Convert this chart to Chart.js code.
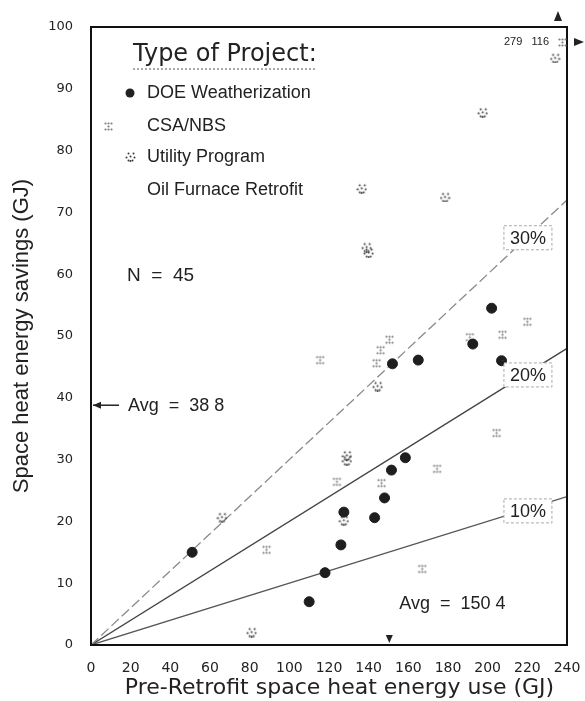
<!DOCTYPE html>
<html>
<head>
<meta charset="utf-8">
<script src="https://cdn.jsdelivr.net/npm/chart.js@4.4.1/dist/chart.umd.min.js"></script>
<style>
  html, body { margin: 0; padding: 0; background: #fff; }
  #wrap { width: 585px; height: 701px; }
</style>
</head>
<body>
<div id="wrap"><canvas id="chart" width="585" height="701"></canvas></div>
<script>
// data (GJ)
const doeX = [51, 110, 118, 126, 127.5, 143, 148, 151.5, 158.5, 152, 165, 192.5, 202, 207];
const doeY = [15, 7, 11.7, 16.2, 21.5, 20.6, 23.8, 28.3, 30.3, 45.5, 46.1, 48.7, 54.5, 46];

const csaX = [88.5, 124, 146.5, 167, 174.5, 204.5, 144, 146, 150.5, 191, 207.5, 220, 115.5];
const csaY = [15.4, 26.4, 26.2, 12.3, 28.5, 34.3, 45.6, 47.7, 49.4, 49.8, 50.2, 52.3, 46.1];

const utilX = [66, 81, 127.5, 129, 129, 144.5, 136.5, 139, 140, 178.5, 197.5, 234];
const utilY = [20.7, 2.1, 20.2, 29.9, 30.7, 41.9, 73.9, 64.4, 63.5, 72.5, 86.2, 95];

// savings-fraction reference lines
const refLabels = ["30%", "20%", "10%"];
const refFractions = [0.3, 0.2, 0.1];
const xRange = [0, 240];
const yRange = [0, 100];

const avgSavings = 38.8;
const avgUse = 150.4;
const offScale = { x: 279, y: 116 };

const toPoints = (xs, ys) => xs.map((v, i) => ({ x: v, y: ys[i] }));

// small dotted symbols like the photocopied original
function makeCsa() {
  const c = document.createElement("canvas");
  c.width = c.height = 11;
  const g = c.getContext("2d");
  g.fillStyle = "#808080";
  [[2, 2], [8, 2], [5, 5], [2, 8], [8, 8], [5, 2], [5, 8]].forEach(([a, b]) => {
    g.beginPath(); g.arc(a + 0.5, b + 0.5, 1.1, 0, Math.PI * 2); g.fill();
  });
  return c;
}
function makeUtil() {
  const c = document.createElement("canvas");
  c.width = c.height = 11;
  const g = c.getContext("2d");
  g.fillStyle = "#3a3a3a";
  [[3, 2], [8, 2], [1, 6], [3, 9], [5, 9.5], [7, 9], [9, 6], [5, 5]].forEach(([a, b]) => {
    g.beginPath(); g.arc(a + 0.5, b + 0.5, 1.0, 0, Math.PI * 2); g.fill();
  });
  return c;
}
const csaIcon = makeCsa();
const utilIcon = makeUtil();

const refColors = ["#8a8a8a", "#444", "#555"];
const refDash = [[10, 4], [], []];

const refSets = refFractions.map((f, i) => ({
  type: "line",
  label: refLabels[i],
  data: xRange.map(v => ({ x: v, y: v * f })),
  borderColor: refColors[i],
  borderWidth: 1.3,
  borderDash: refDash[i],
  pointRadius: 0,
  showLine: true,
  order: 2
}));

const annotations = {
  id: "annotations",
  afterDatasetsDraw(chart) {
    const { ctx, chartArea: a, scales: { x, y } } = chart;
    ctx.save();

    // frame
    ctx.strokeStyle = "#111";
    ctx.lineWidth = 2;
    ctx.strokeRect(a.left, a.top, a.right - a.left, a.bottom - a.top);

    // connector from DOE point to 20% box
    ctx.strokeStyle = "#333";
    ctx.lineWidth = 1.2;
    ctx.beginPath();
    ctx.moveTo(x.getPixelForValue(207), y.getPixelForValue(46));
    ctx.lineTo(x.getPixelForValue(220.3) - 24, y.getPixelForValue(46));
    ctx.stroke();

    // percentage boxes at the right end of each line
    const boxY = [65.9, 43.7, 21.7];
    refLabels.forEach((lab, i) => {
      const cx = x.getPixelForValue(220.3);
      const cy = y.getPixelForValue(boxY[i]);
      ctx.fillStyle = "#fff";
      ctx.fillRect(cx - 24, cy - 12, 48, 24);
      ctx.setLineDash([3, 2]);
      ctx.strokeStyle = "#aaa";
      ctx.lineWidth = 1;
      ctx.strokeRect(cx - 24, cy - 12, 48, 24);
      ctx.setLineDash([]);
      ctx.fillStyle = "#222";
      ctx.font = "18px 'Liberation Sans'";
      ctx.textAlign = "center";
      ctx.textBaseline = "middle";
      ctx.fillText(lab, cx, cy + 1);
    });

    // legend block
    ctx.fillStyle = "#222";
    ctx.textAlign = "left";
    ctx.textBaseline = "middle";
    ctx.font = "24px 'DejaVu Sans'";
    const lx = a.left + 42;
    ctx.fillText("Type of Project:", lx, a.top + 28);
    const tw = ctx.measureText("Type of Project:").width;
    ctx.setLineDash([2, 2]);
    ctx.strokeStyle = "#555";
    ctx.lineWidth = 1;
    ctx.beginPath();
    ctx.moveTo(lx, a.top + 42);
    ctx.lineTo(lx + tw, a.top + 42);
    ctx.stroke();
    ctx.setLineDash([]);

    ctx.font = "18px 'Liberation Sans'";
    const items = ["DOE Weatherization", "CSA/NBS", "Utility Program", "Oil Furnace Retrofit"];
    const rowY = [66, 99, 130, 163];
    items.forEach((t, i) => ctx.fillText(t, a.left + 56, a.top + rowY[i]));
    ctx.fillStyle = "#222";
    ctx.beginPath();
    ctx.arc(a.left + 39, a.top + rowY[0], 4.5, 0, Math.PI * 2);
    ctx.fill();
    ctx.drawImage(csaIcon, a.left + 12, a.top + rowY[1] - 5);
    ctx.drawImage(utilIcon, a.left + 34, a.top + rowY[2] - 6);

    // N
    ctx.font = "19px 'Liberation Sans'";
    ctx.fillText("N  =  45", a.left + 36, y.getPixelForValue(59.7));

    // average savings arrow at the left axis
    const ay = y.getPixelForValue(avgSavings);
    ctx.strokeStyle = "#222";
    ctx.lineWidth = 1.5;
    ctx.beginPath();
    ctx.moveTo(a.left + 2, ay);
    ctx.lineTo(a.left + 28, ay);
    ctx.stroke();
    ctx.beginPath();
    ctx.moveTo(a.left + 2, ay);
    ctx.lineTo(a.left + 10, ay - 3.5);
    ctx.lineTo(a.left + 10, ay + 3.5);
    ctx.closePath();
    ctx.fill();
    ctx.font = "18px 'Liberation Sans'";
    ctx.fillText("Avg  =  38 8", a.left + 37, ay + 1);

    // average use marker on the bottom axis
    const ux = x.getPixelForValue(avgUse);
    ctx.beginPath();
    ctx.moveTo(ux, a.bottom - 2);
    ctx.lineTo(ux - 3.5, a.bottom - 10);
    ctx.lineTo(ux + 3.5, a.bottom - 10);
    ctx.closePath();
    ctx.fill();
    ctx.fillText("Avg  =  150 4", ux + 10, y.getPixelForValue(6.6));

    // off-scale point
    ctx.font = "11px 'Liberation Sans'";
    ctx.textAlign = "right";
    ctx.fillText(offScale.x + "   " + offScale.y, a.right - 18, a.top + 15);
    ctx.drawImage(csaIcon, a.right - 10, a.top + 10);
    ctx.beginPath();
    ctx.moveTo(a.right + 17, a.top + 15);
    ctx.lineTo(a.right + 7, a.top + 11);
    ctx.lineTo(a.right + 7, a.top + 19);
    ctx.closePath();
    ctx.fill();
    ctx.beginPath();
    ctx.moveTo(a.right - 9, a.top - 16);
    ctx.lineTo(a.right - 13, a.top - 6);
    ctx.lineTo(a.right - 5, a.top - 6);
    ctx.closePath();
    ctx.fill();

    ctx.restore();
  }
};

const ctx = document.getElementById("chart").getContext("2d");
new Chart(ctx, {
  type: "scatter",
  data: {
    datasets: [
      {
        label: "DOE Weatherization",
        data: toPoints(doeX, doeY),
        pointStyle: "circle",
        pointRadius: 5,
        backgroundColor: "#1e1e1e",
        borderColor: "#1e1e1e",
        order: 0
      },
      {
        label: "CSA/NBS",
        data: toPoints(csaX, csaY),
        pointStyle: csaIcon,
        order: 0
      },
      {
        label: "Utility Program",
        data: toPoints(utilX, utilY),
        pointStyle: utilIcon,
        order: 0
      },
      ...refSets
    ]
  },
  options: {
    responsive: false,
    animation: false,
    layout: { autoPadding: false, padding: { left: 0, top: 27, right: 18, bottom: 0 } },
    plugins: { legend: { display: false }, tooltip: { enabled: false } },
    scales: {
      x: {
        type: "linear",
        min: xRange[0],
        max: xRange[1],
        grid: { display: false, drawTicks: false },
        border: { display: false },
        ticks: { stepSize: 20, color: "#222", padding: 15, font: { family: "DejaVu Sans", size: 14 } },
        title: {
          display: true,
          text: "   Pre-Retrofit space heat energy use (GJ)",
          color: "#222",
          font: { family: "DejaVu Sans", size: 22 },
          padding: 0
        },
        afterFit: s => { s.height = 56; s.paddingLeft = 0; s.paddingRight = 0; }
      },
      y: {
        type: "linear",
        min: yRange[0],
        max: yRange[1],
        grid: { display: false, drawTicks: false },
        border: { display: false },
        ticks: { stepSize: 10, color: "#222", padding: 18, font: { family: "DejaVu Sans", size: 13 } },
        title: {
          display: true,
          text: "Space heat energy savings (GJ)",
          color: "#222",
          font: { family: "Liberation Sans", size: 22 },
          padding: { top: 9, bottom: 0 }
        },
        afterFit: s => { s.width = 91; }
      }
    }
  },
  plugins: [annotations]
});
</script>
</body>
</html>
